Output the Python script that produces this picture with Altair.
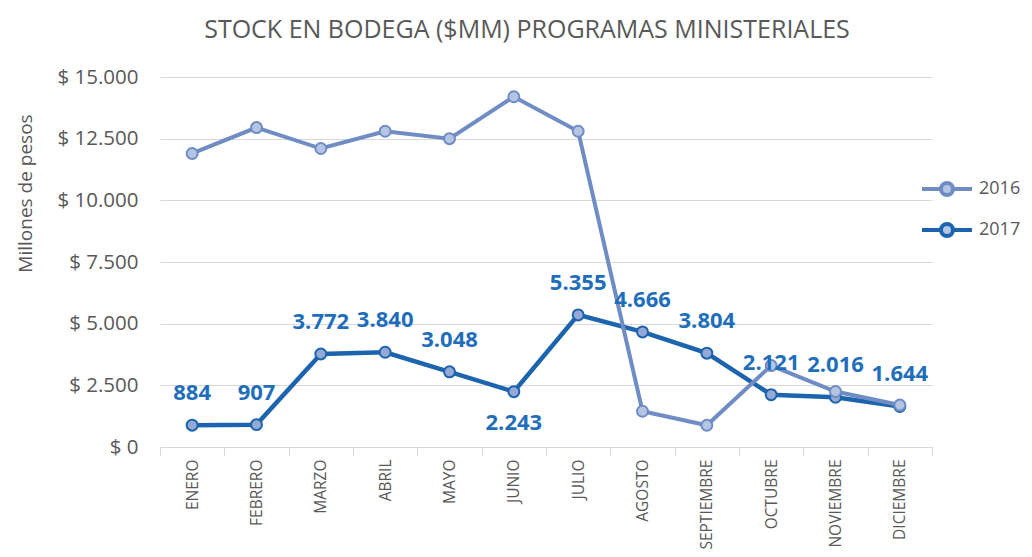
import altair as alt
import pandas as pd

meses = ["ENERO", "FEBRERO", "MARZO", "ABRIL", "MAYO", "JUNIO", "JULIO",
         "AGOSTO", "SEPTIEMBRE", "OCTUBRE", "NOVIEMBRE", "DICIEMBRE"]
v2016 = [11900, 12950, 12100, 12800, 12500, 14200, 12800, 1450, 880, 3300, 2250, 1700]
v2017 = [884, 907, 3772, 3840, 3048, 2243, 5355, 4666, 3804, 2121, 2016, 1644]
years = ["2016", "2017"]
colors = ["#6F8DC4", "#1C64AE"]
label_below = ["JUNIO"]

rows = []
for i, m in enumerate(meses):
    rows.append({"mes": m, "year": "2016", "v": v2016[i]})
    rows.append({"mes": m, "year": "2017", "v": v2017[i]})
df = pd.DataFrame(rows)

FONT = "Open Sans"
GRAY = "#595959"

x_enc = alt.X("mes:N", sort=meses, title=None,
              scale=alt.Scale(type="band", paddingInner=0, paddingOuter=0),
              axis=alt.Axis(labelAngle=-90, tickBand="extent", tickSize=9,
                            tickColor="#D9D9D9", domainColor="#D9D9D9",
                            labelFontSize=15.5, labelColor=GRAY, labelFont=FONT,
                            labelPadding=3, grid=False))
y_enc = alt.Y("v:Q", title="Millones de pesos",
              scale=alt.Scale(domain=[0, 15000], nice=False),
              axis=alt.Axis(values=[0, 2500, 5000, 7500, 10000, 12500, 15000],
                            labelExpr='"$ " + replace(format(datum.value, ",.0f"), ",", ".")',
                            labelFontSize=20.5, labelColor=GRAY, labelFont=FONT,
                            labelPadding=22, ticks=False, domain=False,
                            gridColor="#D9D9D9", gridWidth=1,
                            titleFontSize=19, titleFont=FONT, titleColor=GRAY,
                            titleFontWeight="normal", titleAngle=-90,
                            titleX=-135, titleY=116, titleAlign="center",
                            titleBaseline="middle"))

sym = "M-1,0L-0.24,0M0.24,0L1,0M-0.24,0A0.24,0.24 0 1 1 0.24,0A0.24,0.24 0 1 1 -0.24,0Z"
color_enc = alt.Color("year:N", scale=alt.Scale(domain=years, range=colors),
                      legend=alt.Legend(title=None, orient="none", legendX=760, legendY=85,
                                        symbolType=sym, symbolSize=2500,
                                        symbolStrokeWidth=4, symbolFillColor="#B4C5E4",
                                        labelFontSize=18, labelColor=GRAY, labelFont=FONT,
                                        labelOffset=5, rowPadding=0, padding=0))

base = alt.Chart(df)

def year_layers(yr, fill, sw):
    c = colors[years.index(yr)]
    line = base.transform_filter(alt.datum.year == yr).mark_line(strokeWidth=sw).encode(
        x=x_enc, y=y_enc, color=color_enc)
    pts = base.transform_filter(alt.datum.year == yr).mark_point(
        filled=True, fill=fill, stroke=c, strokeWidth=2, size=120, opacity=1).encode(
        x=x_enc, y=y_enc)
    return [line, pts]

below_list = "[" + ",".join("'" + m + "'" for m in label_below) + "]"
txt = base.transform_filter(alt.datum.year == "2017").transform_calculate(
    lab='replace(format(datum.v, ",.0f"), ",", ".")')
txt_above = txt.transform_filter("indexof(" + below_list + ", datum.mes) < 0").mark_text(
    dy=-32, fontSize=22, fontWeight="bold", color="#1F6EBB", font=FONT).encode(
    x=x_enc, y=y_enc, text="lab:N")
txt_below = txt.transform_filter("indexof(" + below_list + ", datum.mes) >= 0").mark_text(
    dy=31, fontSize=22, fontWeight="bold", color="#1F6EBB", font=FONT).encode(
    x=x_enc, y=y_enc, text="lab:N")

layers = year_layers("2017", "#96A9D6", 4.5) + year_layers("2016", "#B4C5E4", 4) + [txt_above, txt_below]

chart = alt.layer(*layers).properties(
    width=772, height=370,
    title=alt.TitleParams("STOCK EN BODEGA ($MM) PROGRAMAS MINISTERIALES",
                          fontSize=25, font=FONT, color=GRAY, fontWeight="normal",
                          anchor="middle", dx=-19, offset=24),
    autosize=alt.AutoSizeParams(type="none"),
    padding={"left": 152, "top": 69, "right": 92, "bottom": 110},
).configure(background="white").configure_view(stroke=None)

chart.save("out.html", embed_options={"renderer": "svg", "actions": False})
